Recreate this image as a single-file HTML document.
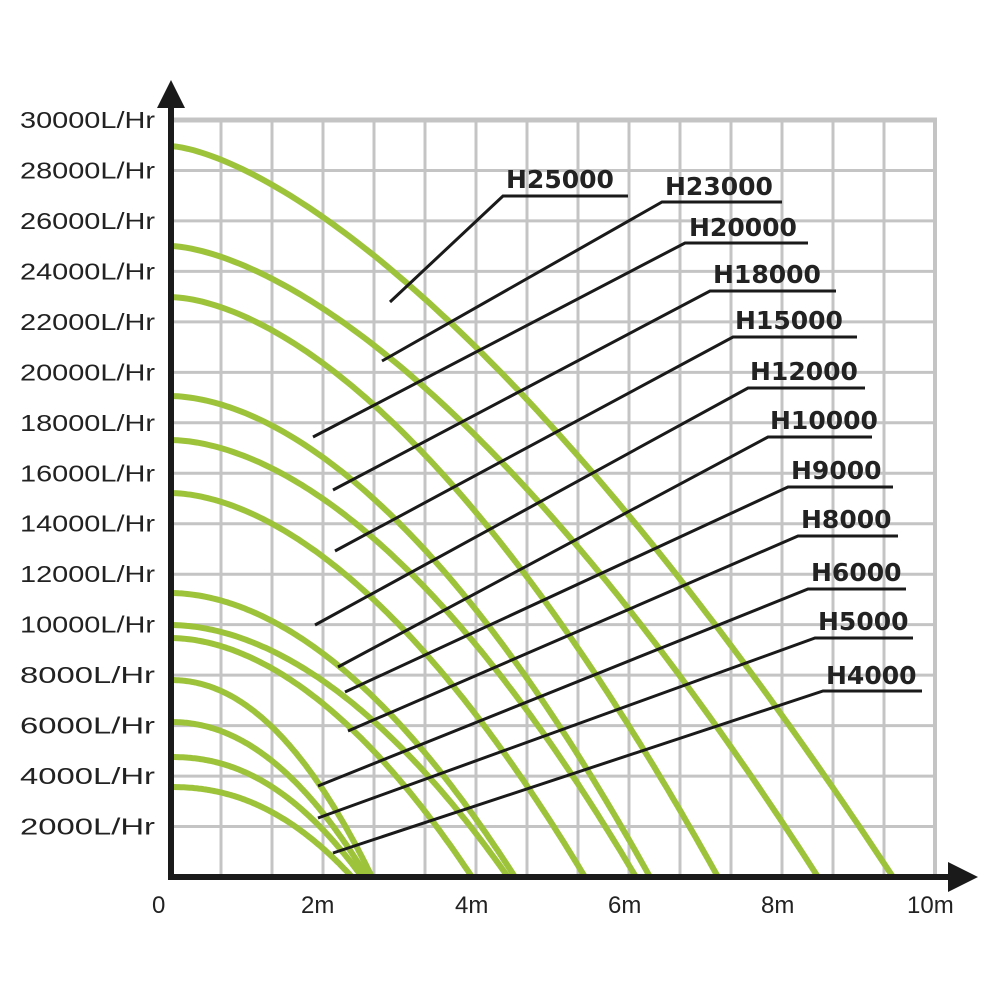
<!DOCTYPE html>
<html><head><meta charset="utf-8"><style>
body{margin:0;background:#fff}
svg{display:block}
.yl{font-family:"Liberation Sans",sans-serif;font-size:23px;fill:#222}
.xl{font-family:"Liberation Sans",sans-serif;font-size:24px;fill:#222}
.lb{font-family:"DejaVu Sans",sans-serif;font-weight:bold;font-size:25px;fill:#222}
</style></head><body>
<svg id="s" width="1000" height="1000" viewBox="0 0 1000 1000" xmlns="http://www.w3.org/2000/svg">
<g id="grid" stroke="#c4c4c4" stroke-width="3"></g>
<g id="curves" fill="none" stroke="#9dc33b" stroke-width="6"></g>
<g stroke="#1a1a1a" stroke-width="3" fill="none">
<polyline points="390,302 503,196 628,196"/>
<polyline points="382,361 662,202 782,202"/>
<polyline points="313,437 685,243 808,243"/>
<polyline points="333,490 710,291 836,291"/>
<polyline points="335,551 733,337 857,337"/>
<polyline points="315,625 748,388 865,388"/>
<polyline points="338,667 768,437 872,437"/>
<polyline points="345,692 788,487 893,487"/>
<polyline points="348,731 798,536 898,536"/>
<polyline points="318,786 808,589 906,589"/>
<polyline points="318,818 815,638 913,638"/>
<polyline points="333,853 823,691 922,691"/>
</g>
<g class="lb">
<text x="506" y="188">H25000</text>
<text x="665" y="195">H23000</text>
<text x="689" y="236">H20000</text>
<text x="713" y="283">H18000</text>
<text x="735" y="329">H15000</text>
<text x="750" y="380">H12000</text>
<text x="770" y="429">H10000</text>
<text x="791" y="479">H9000</text>
<text x="801" y="528">H8000</text>
<text x="811" y="581">H6000</text>
<text x="818" y="630">H5000</text>
<text x="826" y="684">H4000</text>
</g>
<g class="yl" id="ylab"></g>
<g class="xl">
<text x="152" y="913">0</text>
<text x="301" y="913">2m</text>
<text x="455" y="913">4m</text>
<text x="608" y="913">6m</text>
<text x="761" y="913">8m</text>
<text x="907" y="913">10m</text>
</g>
<rect x="168" y="100" width="6" height="780" fill="#1a1a1a"/>
<polygon points="157,108 185,108 171,80" fill="#1a1a1a"/>
<rect x="168" y="874" width="785" height="6" fill="#1a1a1a"/>
<polygon points="948,862 948,892 978,877" fill="#1a1a1a"/>
</svg>
<script>
var NS="http://www.w3.org/2000/svg";
function el(p,t,a){var e=document.createElementNS(NS,t);for(var k in a)e.setAttribute(k,a[k]);p.appendChild(e);return e;}
var g=document.getElementById('grid');
var X0=170,XS=51,Y0=877,YS=(877-120)/15;
for(var i=1;i<=15;i++){el(g,'line',{x1:X0+i*XS,y1:120,x2:X0+i*XS,y2:877});}
for(var j=1;j<=15;j++){el(g,'line',{x1:170,y1:Y0-j*YS,x2:935,y2:Y0-j*YS});}
el(g,'line',{x1:170,y1:120,x2:937,y2:120,'stroke-width':5});
el(g,'line',{x1:935,y1:120,x2:935,y2:877,'stroke-width':4});
var yl=document.getElementById('ylab');
for(var j=1;j<=15;j++){var t=el(yl,'text',{x:20,y:Y0-j*YS+8,textLength:135,lengthAdjust:'spacingAndGlyphs'});t.textContent=(j*2000)+'L/Hr';}
var c=document.getElementById('curves');
var curves=[[146,893,1.5],[246,818,1.6],[297,718,1.7],[396,650,1.8],[440,636,1.8],[493,585,1.8],[593,515,1.9],[625,508,1.9],[638,472,1.9],[680,372,2.1],[722,367,2.1],[757,362,2.2],[787,352,2.2]];
curves.forEach(function(cv){var h0=Y0-cv[0],W=cv[1]-X0,p=cv[2],d='';
for(var k=0;k<=120;k++){var f=k/120,x=X0+f*W,y=Y0-h0*(1-Math.pow(f,p));d+=(k?'L':'M')+x.toFixed(1)+','+y.toFixed(1);}
el(c,'path',{d:d});});
</script>
</body></html>
